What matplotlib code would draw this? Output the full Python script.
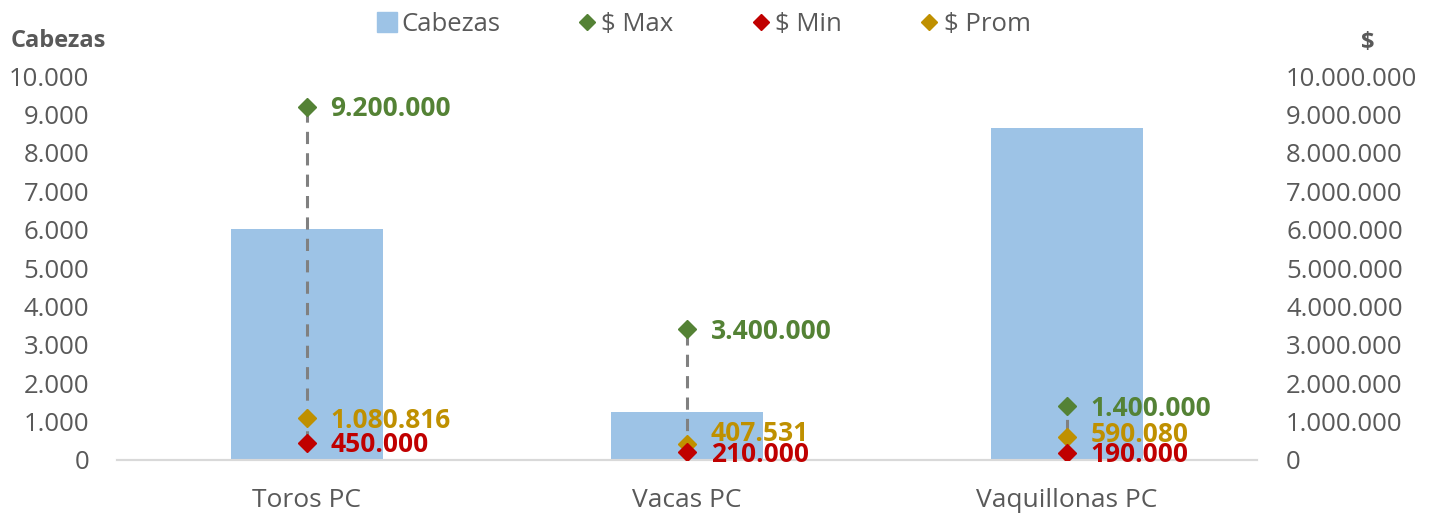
import matplotlib
matplotlib.use("Agg")
import matplotlib.pyplot as plt
from matplotlib.lines import Line2D
from matplotlib.ticker import FuncFormatter

plt.rcParams["font.family"] = ["Open Sans", "DejaVu Sans"]

categories = ["Toros PC", "Vacas PC", "Vaquillonas PC"]
cabezas = [6020, 1260, 8650]
precio_max = [9200000, 3400000, 1400000]
precio_min = [450000, 210000, 190000]
precio_prom = [1080816, 407531, 590080]

BAR = "#9DC3E6"
GREEN = "#548235"
RED = "#C00000"
GOLD = "#BF9000"
TXT = "#595959"

# vertical nudge (points) of the $ Prom labels, as Excel placed them
prom_dy = [0, 9, 3.5]


def miles(v, _pos=None):
    return f"{int(round(v)):,}".replace(",", ".")


fig = plt.figure(figsize=(14.39, 5.15), dpi=100)
ax = fig.add_axes([0.0813, 0.1068, 0.7922, 0.7456])
ax2 = ax.twinx()

x = list(range(len(categories)))
ax.bar(x, cabezas, width=0.4, color=BAR, zorder=1)
ax.set_xlim(-0.5, 2.5)
ax.set_ylim(0, 10000)
ax.set_yticks(range(0, 10001, 1000))
ax.yaxis.set_major_formatter(FuncFormatter(miles))
ax.set_xticks(x)
ax.set_xticklabels(categories)

ax2.set_ylim(0, 10000000)
ax2.set_yticks(range(0, 10000001, 1000000))
ax2.yaxis.set_major_formatter(FuncFormatter(miles))

# high-low lines
ax2.vlines(x, precio_min, precio_max, colors="#808080", linestyles=(0, (4, 3)),
           linewidth=2.2, zorder=2)
for vals, col, dys in [(precio_max, GREEN, [0, 0, 0]),
                       (precio_prom, GOLD, prom_dy),
                       (precio_min, RED, [0, 0, 0])]:
    ax2.plot(x, vals, linestyle="none", marker="D", markersize=9, color=col, zorder=3)
    for xi, v, dy in zip(x, vals, dys):
        ax2.annotate(miles(v), (xi, v), xytext=(17, -1.5 + dy), textcoords="offset points",
                     va="center", ha="left", fontsize=19, fontweight="bold",
                     color=col, zorder=4)

for a in (ax, ax2):
    for s in ("top", "left", "right"):
        a.spines[s].set_visible(False)
    a.spines["bottom"].set_color("#D9D9D9")
    a.spines["bottom"].set_linewidth(1.5)
    a.tick_params(length=0, labelsize=18.5, labelcolor=TXT)
ax.tick_params(axis="y", pad=20)
ax.tick_params(axis="x", pad=20, labelsize=19)
ax2.tick_params(axis="y", pad=21)

fig.text(0.0405, 0.921, "Cabezas", ha="center", va="center", fontsize=17,
         fontweight="bold", color=TXT)
fig.text(0.9505, 0.917, "$", ha="center", va="center", fontsize=17,
         fontweight="bold", color=TXT)

handles = [
    Line2D([], [], linestyle="none", marker="s", markersize=14, color=BAR),
    Line2D([], [], linestyle="none", marker="D", markersize=8, color=GREEN),
    Line2D([], [], linestyle="none", marker="D", markersize=8, color=RED),
    Line2D([], [], linestyle="none", marker="D", markersize=8, color=GOLD),
]
fig.legend(handles, ["Cabezas", "$ Max", "$ Min", "$ Prom"], loc="center",
           bbox_to_anchor=(0.488, 0.952), ncol=4, frameon=False, fontsize=18.5,
           labelcolor=TXT, handletextpad=0.05, columnspacing=2.9, handlelength=1.0)

fig.savefig("out.png", dpi=100)
